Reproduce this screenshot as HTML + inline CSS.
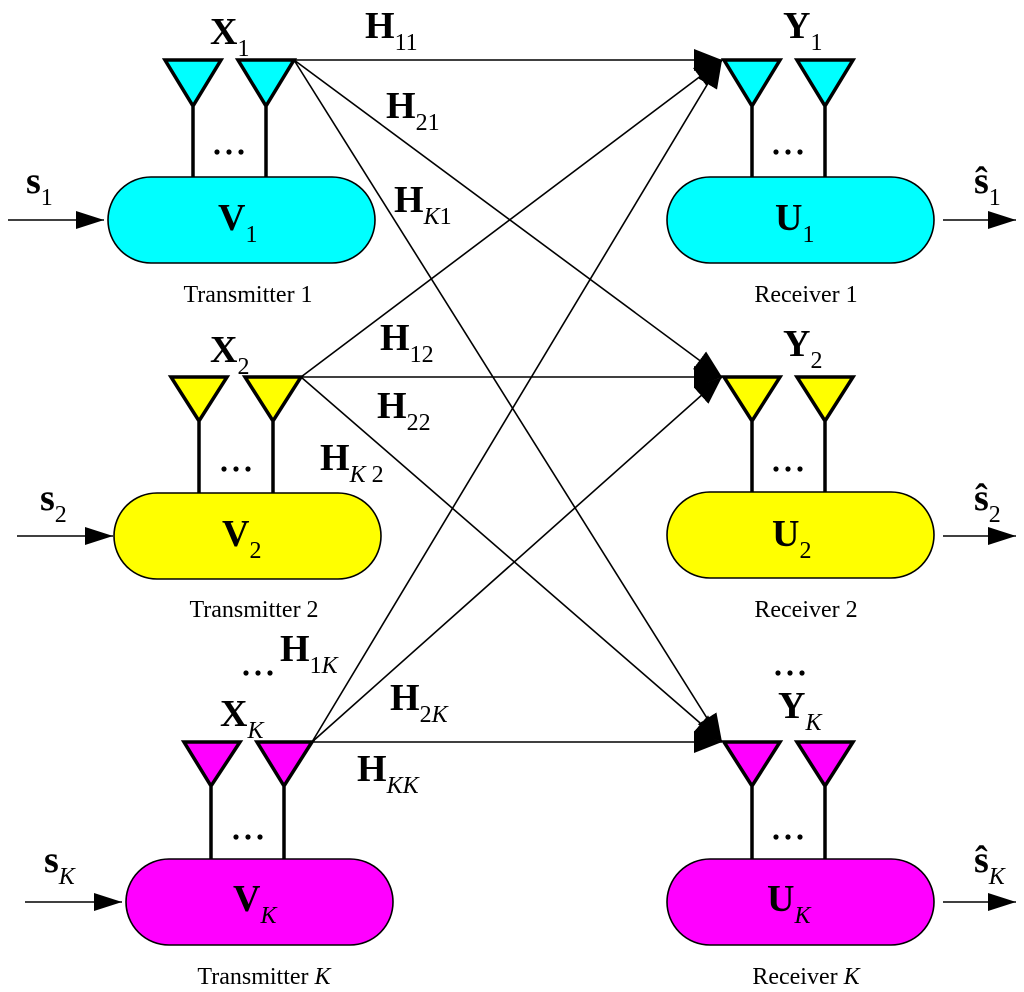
<!DOCTYPE html>
<html><head><meta charset="utf-8"><style>
html,body{margin:0;padding:0;background:#fff}
svg{display:block}
text{font-family:"Liberation Serif",serif;fill:#000}
.b{font-weight:bold;font-size:38px}
.s{font-size:24px}
.i{font-style:italic}
.l{font-size:24px}
</style></head><body>
<svg width="1024" height="992" viewBox="0 0 1024 992" xmlns="http://www.w3.org/2000/svg">
<defs>
<marker id="a" markerUnits="userSpaceOnUse" markerWidth="30" markerHeight="24" refX="28" refY="11" orient="auto">
<path d="M0,0 L28,11 L0,22 z" fill="#000"/>
</marker>
<marker id="a2" markerUnits="userSpaceOnUse" markerWidth="30" markerHeight="24" refX="28" refY="9" orient="auto">
<path d="M0,0 L28,9 L0,18 z" fill="#000"/>
</marker>
</defs>
<g stroke="#000" stroke-width="1.6" fill="none">
<!-- channel lines -->
<line x1="294" y1="60" x2="722" y2="60" marker-end="url(#a)"/>
<line x1="294" y1="60" x2="722" y2="377" marker-end="url(#a)"/>
<line x1="294" y1="60" x2="722" y2="742" marker-end="url(#a)"/>
<line x1="301" y1="377" x2="722" y2="60" marker-end="url(#a)"/>
<line x1="301" y1="377" x2="722" y2="377" marker-end="url(#a)"/>
<line x1="301" y1="377" x2="722" y2="742" marker-end="url(#a)"/>
<line x1="312" y1="742" x2="722" y2="60" marker-end="url(#a)"/>
<line x1="312" y1="742" x2="722" y2="377" marker-end="url(#a)"/>
<line x1="312" y1="742" x2="722" y2="742" marker-end="url(#a)"/>
<!-- in/out arrows -->
<line x1="8" y1="220" x2="104" y2="220" marker-end="url(#a2)"/>
<line x1="17" y1="536" x2="113" y2="536" marker-end="url(#a2)"/>
<line x1="25" y1="902" x2="122" y2="902" marker-end="url(#a2)"/>
<line x1="943" y1="220" x2="1016" y2="220" marker-end="url(#a2)"/>
<line x1="943" y1="536" x2="1016" y2="536" marker-end="url(#a2)"/>
<line x1="943" y1="902" x2="1016" y2="902" marker-end="url(#a2)"/>
</g>
<!-- boxes -->
<g stroke="#000" stroke-width="1.6">
<rect x="108" y="177" width="267" height="86" rx="43" fill="#00ffff"/>
<rect x="667" y="177" width="267" height="86" rx="43" fill="#00ffff"/>
<rect x="114" y="493" width="267" height="86" rx="43" fill="#ffff00"/>
<rect x="667" y="492" width="267" height="86" rx="43" fill="#ffff00"/>
<rect x="126" y="859" width="267" height="86" rx="43" fill="#ff00ff"/>
<rect x="667" y="859" width="267" height="86" rx="43" fill="#ff00ff"/>
</g>
<!-- antennas -->
<g stroke="#000" stroke-width="3.5" stroke-linejoin="miter">
<g fill="#00ffff">
<path d="M165,60 H221 L193,106 Z M193,106 V177"/>
<path d="M238,60 H294 L266,106 Z M266,106 V177"/>
<path d="M724,60 H780 L752,106 Z M752,106 V177"/>
<path d="M797,60 H853 L825,106 Z M825,106 V177"/>
</g>
<g fill="#ffff00">
<path d="M171,377 H227 L199,421 Z M199,421 V493"/>
<path d="M245,377 H301 L273,421 Z M273,421 V493"/>
<path d="M724,377 H780 L752,421 Z M752,421 V492"/>
<path d="M797,377 H853 L825,421 Z M825,421 V492"/>
</g>
<g fill="#ff00ff">
<path d="M184,742 H240 L211,786 Z M211,786 V859"/>
<path d="M257,742 H312 L284,786 Z M284,786 V859"/>
<path d="M724,742 H780 L752,786 Z M752,786 V859"/>
<path d="M797,742 H853 L825,786 Z M825,786 V859"/>
</g>
</g>
<!-- dots -->
<g fill="#000">
<circle cx="217" cy="152" r="2.6"/><circle cx="229" cy="152" r="2.6"/><circle cx="241" cy="152" r="2.6"/>
<circle cx="776" cy="152" r="2.6"/><circle cx="788" cy="152" r="2.6"/><circle cx="800" cy="152" r="2.6"/>
<circle cx="224" cy="469" r="2.6"/><circle cx="236" cy="469" r="2.6"/><circle cx="248" cy="469" r="2.6"/>
<circle cx="776" cy="469" r="2.6"/><circle cx="788" cy="469" r="2.6"/><circle cx="800" cy="469" r="2.6"/>
<circle cx="236" cy="837" r="2.6"/><circle cx="248" cy="837" r="2.6"/><circle cx="260" cy="837" r="2.6"/>
<circle cx="776" cy="837" r="2.6"/><circle cx="788" cy="837" r="2.6"/><circle cx="800" cy="837" r="2.6"/>
<circle cx="246" cy="673" r="2.6"/><circle cx="258" cy="673" r="2.6"/><circle cx="270" cy="673" r="2.6"/>
<circle cx="778" cy="673" r="2.6"/><circle cx="790" cy="673" r="2.6"/><circle cx="802" cy="673" r="2.6"/>
</g>
<!-- labels -->
<text x="210" y="44" class="b">X<tspan class="s" dy="12" font-weight="normal">1</tspan></text>
<text x="210" y="362" class="b">X<tspan class="s" dy="12" font-weight="normal">2</tspan></text>
<text x="220" y="726" class="b">X<tspan class="s i" dy="12" font-weight="normal">K</tspan></text>
<text x="783" y="38" class="b">Y<tspan class="s" dy="12" font-weight="normal">1</tspan></text>
<text x="783" y="356" class="b">Y<tspan class="s" dy="12" font-weight="normal">2</tspan></text>
<text x="778" y="718" class="b">Y<tspan class="s i" dy="12" font-weight="normal">K</tspan></text>
<text x="218" y="230" class="b">V<tspan class="s" dy="12" font-weight="normal">1</tspan></text>
<text x="222" y="546" class="b">V<tspan class="s" dy="12" font-weight="normal">2</tspan></text>
<text x="233" y="911" class="b">V<tspan class="s i" dy="12" font-weight="normal">K</tspan></text>
<text x="775" y="230" class="b">U<tspan class="s" dy="12" font-weight="normal">1</tspan></text>
<text x="772" y="546" class="b">U<tspan class="s" dy="12" font-weight="normal">2</tspan></text>
<text x="767" y="911" class="b">U<tspan class="s i" dy="12" font-weight="normal">K</tspan></text>
<text x="365" y="38" class="b">H<tspan class="s" dy="12" font-weight="normal">11</tspan></text>
<text x="386" y="118" class="b">H<tspan class="s" dy="12" font-weight="normal">21</tspan></text>
<text x="394" y="212" class="b">H<tspan class="s" dy="12" font-weight="normal"><tspan class="i">K</tspan>1</tspan></text>
<text x="380" y="350" class="b">H<tspan class="s" dy="12" font-weight="normal">12</tspan></text>
<text x="377" y="418" class="b">H<tspan class="s" dy="12" font-weight="normal">22</tspan></text>
<text x="320" y="470" class="b">H<tspan class="s" dy="12" font-weight="normal"><tspan class="i">K</tspan> 2</tspan></text>
<text x="280" y="661" class="b">H<tspan class="s" dy="12" font-weight="normal">1<tspan class="i">K</tspan></tspan></text>
<text x="390" y="710" class="b">H<tspan class="s" dy="12" font-weight="normal">2<tspan class="i">K</tspan></tspan></text>
<text x="357" y="781" class="b">H<tspan class="s" dy="12" font-weight="normal"><tspan class="i">KK</tspan></tspan></text>
<text x="26" y="193" class="b">s<tspan class="s" dy="12" font-weight="normal">1</tspan></text>
<text x="40" y="510" class="b">s<tspan class="s" dy="12" font-weight="normal">2</tspan></text>
<text x="44" y="872" class="b">s<tspan class="s i" dy="12" font-weight="normal">K</tspan></text>
<text x="974" y="193" class="b">ŝ<tspan class="s" dy="12" font-weight="normal">1</tspan></text>
<text x="974" y="510" class="b">ŝ<tspan class="s" dy="12" font-weight="normal">2</tspan></text>
<text x="974" y="872" class="b">ŝ<tspan class="s i" dy="12" font-weight="normal">K</tspan></text>
<g class="l" text-anchor="middle">
<text x="248" y="302" class="l">Transmitter 1</text>
<text x="806" y="302" class="l">Receiver 1</text>
<text x="254" y="617" class="l">Transmitter 2</text>
<text x="806" y="617" class="l">Receiver 2</text>
<text x="264" y="984" class="l">Transmitter <tspan class="i">K</tspan></text>
<text x="806" y="984" class="l">Receiver <tspan class="i">K</tspan></text>
</g>
</svg>
</body></html>
